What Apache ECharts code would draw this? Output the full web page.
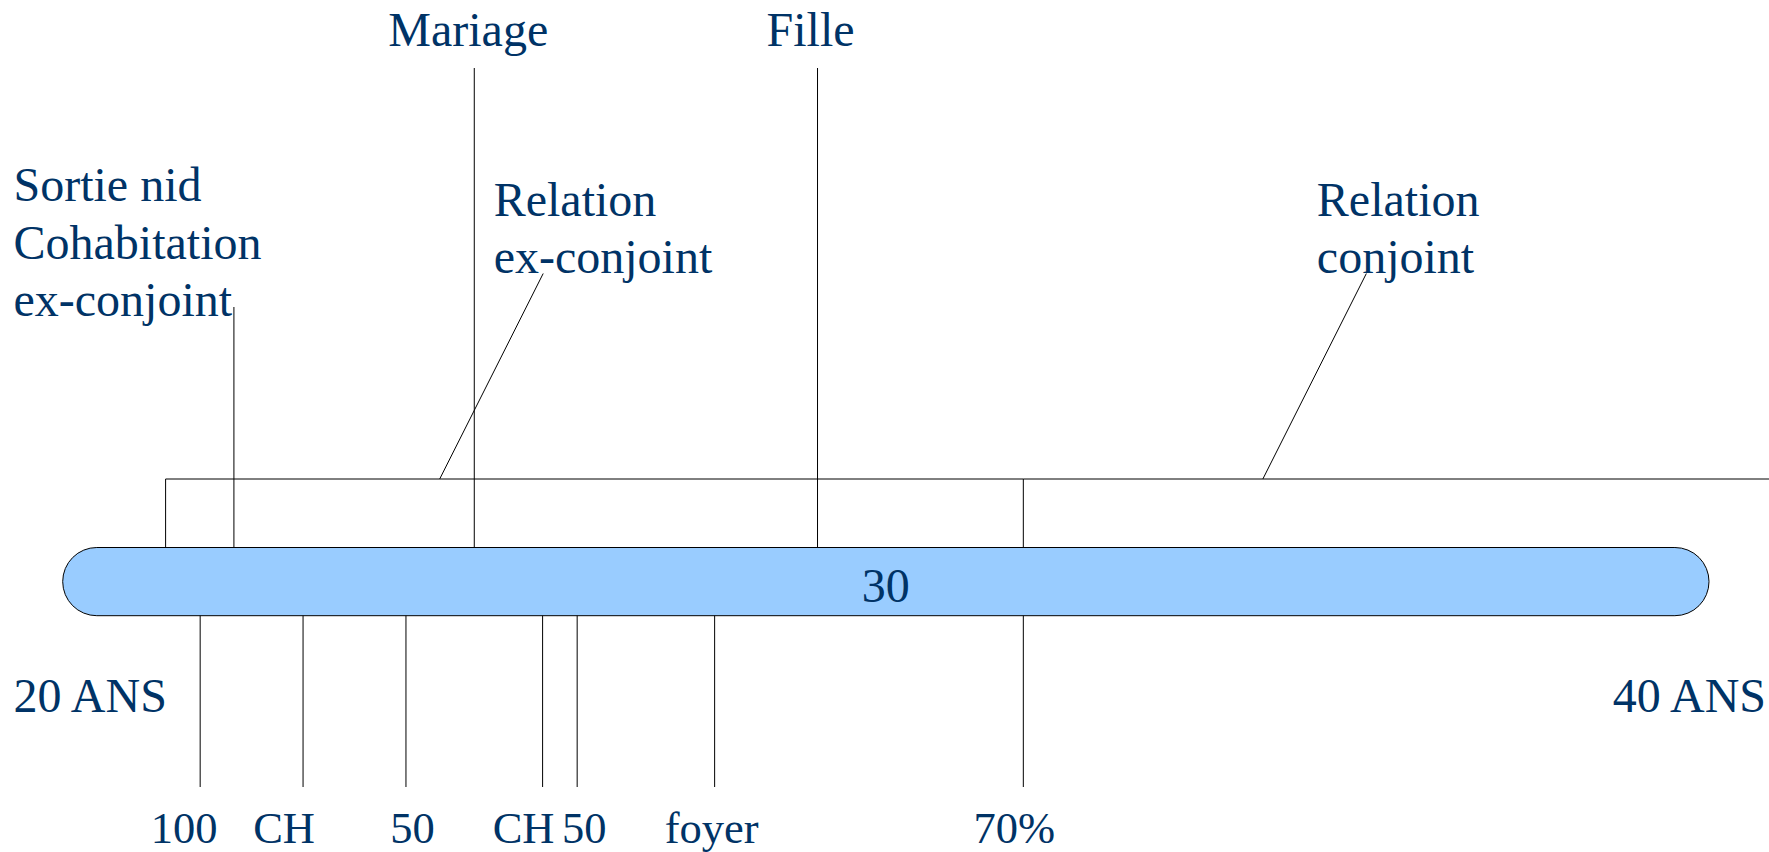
<!DOCTYPE html>
<html>
<head>
<meta charset="utf-8">
<script src="https://cdn.jsdelivr.net/npm/echarts@6/dist/echarts.min.js"></script>
<style>
  html, body { margin: 0; padding: 0; background: #ffffff; }
  #chart { width: 1769px; height: 852px; }
</style>
</head>
<body>
<div id="chart"></div>
<script>
// ---------------- DATA (ages in years) ----------------
const spanStart = 20;
const spanEnd = 40;
const spanEndLabels = ['20 ANS', '40 ANS'];
const midLabel = '30';

const topEventNames = ['Mariage', 'Fille'];
const topEventAges = [25.0, 29.17];

const leaveHomeLabel = ['Sortie nid', 'Cohabitation', 'ex-conjoint'];
const leaveHomeAge = 22.08;

const relationNames = [['Relation', 'ex-conjoint'], ['Relation', 'conjoint']];
const relationStarts = [21.25, 31.67];
const relationEnds = [31.67, null];          // null = still ongoing
const relationPointerAges = [24.58, 34.58];

const bottomEventLabels = ['100', 'CH', '50', 'CH', '50', 'foyer', '70%'];
const bottomEventAges = [21.67, 22.92, 24.17, 25.83, 26.25, 27.92, 31.67];

// ---------------- LAYOUT / STYLE ----------------
const TXT = '#003366';
const FONT = '"Liberation Serif", "Times New Roman", serif';
const BIG = 48, SMALL = 44.5;
const LY = {
  barTop: 547.5, barBottom: 615.7,
  bracketY: 479,
  topLineTop: 68, topTextY: 29.5,
  leaveLineTop: 307, leaveTextX: 13.5, leaveTextY: [184.5, 242.5, 299.5],
  pointerTopY: 273.5, pointerDx: 103.5, pointerTextDx: 54, pointerTextY: [199.5, 256.5],
  bottomLineEnd: 787, bottomTextY: 828,
  endTextY: 695, endTextX: [13.5, 1766],
  midTextDy: 4
};
const topLabelDx = [-6, -7];
const bottomLabelDx = [-16, -19, 6.5, -19, 7, -3, -9];

const LINE = { stroke: '#000000', lineWidth: 1 };
function txt(x, y, text, size, align) {
  return { type: 'text', style: { x: x, y: y, text: text, fill: TXT, fontSize: size,
    fontFamily: FONT, textAlign: align || 'center', verticalAlign: 'middle' } };
}
function line(x1, y1, x2, y2) {
  return { type: 'line', shape: { x1: x1, y1: y1, x2: x2, y2: y2 }, style: LINE };
}

const chart = echarts.init(document.getElementById('chart'), null, { renderer: 'svg' });

const option = {
  animation: false,
  backgroundColor: '#ffffff',
  grid: { left: 62.7, right: 60, top: 0, bottom: 0 },
  xAxis: { type: 'value', min: spanStart, max: spanEnd, show: false },
  yAxis: { type: 'value', min: 0, max: 852, inverse: true, show: false },
  series: [
    // main timeline bar
    {
      type: 'custom', clip: false,
      data: [[spanStart, spanEnd]],
      renderItem: function (params, api) {
        const p0 = api.coord([api.value(0), LY.barTop]);
        const p1 = api.coord([api.value(1), LY.barBottom]);
        const h = p1[1] - p0[1];
        return { type: 'group', children: [
          { type: 'rect', shape: { x: p0[0], y: p0[1], width: p1[0] - p0[0], height: h, r: h / 2 },
            style: { fill: '#99ccff', stroke: '#000000', lineWidth: 1 } },
          txt((p0[0] + p1[0]) / 2, (p0[1] + p1[1]) / 2 + LY.midTextDy, midLabel, BIG)
        ] };
      }
    },
    // end labels
    {
      type: 'custom', clip: false,
      data: [[spanStart, 0], [spanEnd, 1]],
      renderItem: function (params, api) {
        const i = params.dataIndex;
        return txt(LY.endTextX[i], LY.endTextY, spanEndLabels[i], BIG, i === 0 ? 'left' : 'right');
      }
    },
    // top events (Mariage, Fille)
    {
      type: 'custom', clip: false,
      data: topEventAges.map(function (a, i) { return [a, i]; }),
      renderItem: function (params, api) {
        const i = params.dataIndex;
        const t = api.coord([api.value(0), LY.topLineTop]);
        const b = api.coord([api.value(0), LY.barTop]);
        return { type: 'group', children: [
          line(t[0], t[1], b[0], b[1]),
          txt(t[0] + topLabelDx[i], LY.topTextY, topEventNames[i], BIG)
        ] };
      }
    },
    // leaving home / cohabitation
    {
      type: 'custom', clip: false,
      data: [[leaveHomeAge, 0]],
      renderItem: function (params, api) {
        const t = api.coord([api.value(0), LY.leaveLineTop]);
        const b = api.coord([api.value(0), LY.barTop]);
        const ch = [line(t[0], t[1], b[0], b[1])];
        leaveHomeLabel.forEach(function (s, k) { ch.push(txt(LY.leaveTextX, LY.leaveTextY[k], s, BIG, 'left')); });
        return { type: 'group', children: ch };
      }
    },
    // relation periods (bracket + pointer + label)
    {
      type: 'custom', clip: false,
      data: relationStarts.map(function (s, i) { return [s, relationEnds[i] === null ? spanEnd : relationEnds[i], relationPointerAges[i]]; }),
      renderItem: function (params, api) {
        const i = params.dataIndex;
        const s = api.coord([api.value(0), LY.bracketY]);
        const e = relationEnds[i] === null ? [api.getWidth(), s[1]] : api.coord([api.value(1), LY.bracketY]);
        const bar = api.coord([api.value(0), LY.barTop]);
        const p = api.coord([api.value(2), LY.bracketY]);
        const ch = [
          line(s[0], s[1], e[0], e[1]),
          line(s[0], s[1], bar[0], bar[1]),
          line(p[0], p[1], p[0] + LY.pointerDx, LY.pointerTopY)
        ];
        relationNames[i].forEach(function (t, k) {
          ch.push(txt(p[0] + LY.pointerTextDx, LY.pointerTextY[k], t, BIG, 'left'));
        });
        return { type: 'group', children: ch };
      }
    },
    // bottom events
    {
      type: 'custom', clip: false,
      data: bottomEventAges.map(function (a, i) { return [a, i]; }),
      renderItem: function (params, api) {
        const i = params.dataIndex;
        const t = api.coord([api.value(0), LY.barBottom]);
        const b = api.coord([api.value(0), LY.bottomLineEnd]);
        return { type: 'group', children: [
          line(t[0], t[1], b[0], b[1]),
          txt(t[0] + bottomLabelDx[i], LY.bottomTextY, bottomEventLabels[i], SMALL)
        ] };
      }
    }
  ]
};
chart.setOption(option);
</script>
</body>
</html>
